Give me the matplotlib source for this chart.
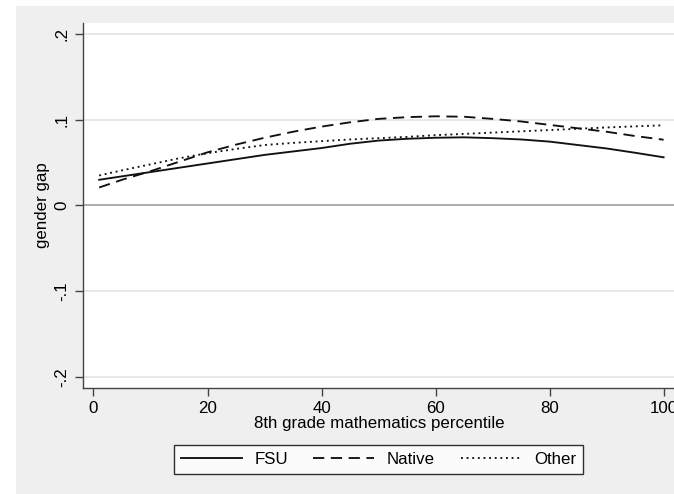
import numpy as np
import matplotlib
matplotlib.use("Agg")
import matplotlib.pyplot as plt
from matplotlib.patches import Rectangle

plt.rcParams['font.family'] = ['Liberation Sans', 'DejaVu Sans']

# percentile points
pct = [1, 5, 10, 15, 20, 25, 30, 35, 40, 45, 50, 55, 60, 65, 70, 75, 80, 85, 90, 95, 100]
fsu = [0.030, 0.034, 0.039, 0.044, 0.049, 0.054, 0.059, 0.063, 0.067, 0.072, 0.0757, 0.0778,
       0.0790, 0.0795, 0.0785, 0.0770, 0.0745, 0.0705, 0.0665, 0.0615, 0.0562]
native = [0.021, 0.030, 0.040, 0.051, 0.062, 0.071, 0.079, 0.086, 0.092, 0.097, 0.101, 0.103,
          0.104, 0.1035, 0.101, 0.098, 0.094, 0.090, 0.086, 0.081, 0.0767]
other = [0.035, 0.041, 0.048, 0.055, 0.061, 0.066, 0.0705, 0.073, 0.075, 0.077, 0.0785, 0.080,
         0.082, 0.0835, 0.085, 0.0865, 0.088, 0.0895, 0.0910, 0.0923, 0.0935]

series = [("FSU", fsu, "-"), ("Native", native, (0, (6, 3.5))), ("Other", other, (0, (1, 2)))]

yticks = [-0.2, -0.1, 0, 0.1, 0.2]
ytick_labels = ["-.2", "-.1", "0", ".1", ".2"]
xticks = [0, 20, 40, 60, 80, 100]
fs = 12.2

fig = plt.figure(figsize=(6.74, 4.94), dpi=100, facecolor="white")
fig.patches.append(Rectangle((16 / 674, 0), 1, 1 - 6 / 494, transform=fig.transFigure,
                             facecolor="#efefef", edgecolor="none", zorder=-10))

ax = fig.add_axes([83 / 674, 106 / 494, 592 / 674, 365 / 494])
ax.set_facecolor("white")

for ytk in yticks:
    ax.axhline(ytk, color="#e4e4e4", lw=1.2, zorder=1)
ax.axhline(0, color="#a8a8a8", lw=1.3, zorder=2)

handles = []
for name, vals, ls in series:
    h, = ax.plot(pct, vals, color="#111111", lw=1.35, linestyle=ls, label=name, zorder=3)
    handles.append(h)

ax.set_xlim(-1.84, 102)
ax.set_ylim(-0.2128, 0.2128)
ax.set_xticks(xticks)
ax.set_yticks(yticks)
ax.set_yticklabels(ytick_labels, rotation=90, va="center")
ax.tick_params(axis="both", length=6, width=1, color="#444444", labelsize=fs, direction="out")
ax.tick_params(axis="x", pad=3)
ax.tick_params(axis="y", pad=4)

for side in ["top", "right"]:
    ax.spines[side].set_visible(False)
for side in ["left", "bottom"]:
    ax.spines[side].set_color("#444444")
    ax.spines[side].set_linewidth(1)

ax.set_xlabel("8th grade mathematics percentile", fontsize=fs, labelpad=0)
ax.set_ylabel("gender gap", fontsize=fs, labelpad=3)

leg = fig.legend(handles=handles, loc="center", bbox_to_anchor=(378.5 / 674, 1 - 459.5 / 494),
                 ncol=3, fontsize=fs, frameon=True, fancybox=False, handlelength=3.6,
                 handletextpad=0.75, columnspacing=1.5, borderpad=0.4)
leg.get_frame().set_edgecolor("black")
leg.get_frame().set_linewidth(1)
leg.get_frame().set_facecolor("white")

fig.savefig("out.png", dpi=100, facecolor=fig.get_facecolor())
